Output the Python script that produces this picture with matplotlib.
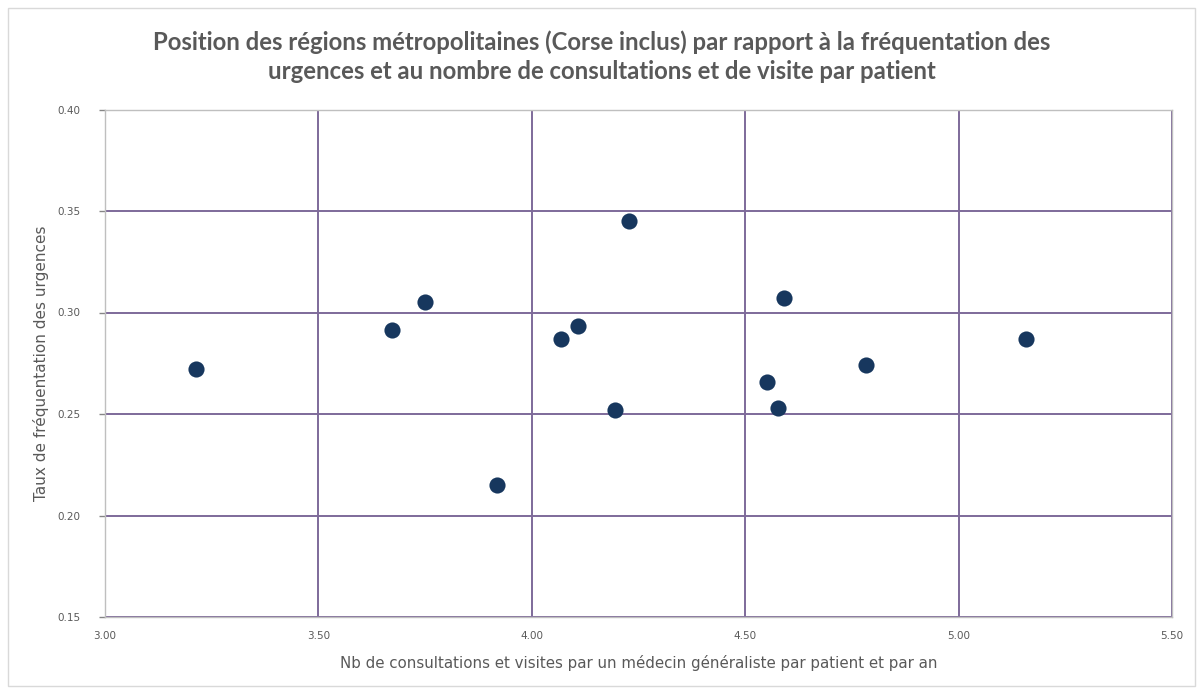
import matplotlib
matplotlib.use("Agg")
import matplotlib.pyplot as plt
from matplotlib.patches import Rectangle

consultations = [3.213, 3.672, 3.750, 3.918, 4.068, 4.108, 4.196, 4.227, 4.551, 4.578, 4.590, 4.784, 5.157]
taux_urgences = [0.272, 0.2915, 0.305, 0.215, 0.287, 0.2935, 0.252, 0.345, 0.266, 0.253, 0.307, 0.274, 0.287]
x_ticks = [3.00, 3.50, 4.00, 4.50, 5.00, 5.50]
y_ticks = [0.15, 0.20, 0.25, 0.30, 0.35, 0.40]

title = ("Position des régions métropolitaines (Corse inclus) par rapport à la fréquentation des\n"
         "urgences et au nombre de consultations et de visite par patient")
xlabel = "Nb de consultations et visites par un médecin généraliste par patient et par an"
ylabel = "Taux de fréquentation des urgences"

W, H = 1203, 693
fig = plt.figure(figsize=(W / 100, H / 100), dpi=100)
fig.patch.set_facecolor("white")
fig.patches.append(Rectangle((8 / W, 1 - 686 / H), (1195 - 8) / W, (686 - 8) / H,
                             transform=fig.transFigure, fill=False,
                             edgecolor="#d9d9d9", linewidth=1))

left, right, top, bottom = 105, 1172, 109.5, 617
ax = fig.add_axes([left / W, 1 - bottom / H, (right - left) / W, (bottom - top) / H])

ax.scatter(consultations, taux_urgences, s=135, color="#17375e", zorder=3, linewidths=0)

ax.set_xlim(3.0, 5.5)
ax.set_ylim(0.15, 0.40)
ax.set_xticks(x_ticks)
ax.set_yticks(y_ticks)
ax.set_xticklabels([f"{v:.2f}" for v in x_ticks])
ax.set_yticklabels([f"{v:.2f}" for v in y_ticks])

grid_color = "#7e6a9a"
ax.grid(True, color=grid_color, linewidth=1.4, zorder=1)
for s in ax.spines.values():
    s.set_color("#bfbfbf")
    s.set_linewidth(1)

ax.tick_params(axis="both", colors="#595959", labelsize=7.5, length=4, width=1)
ax.tick_params(axis="x", length=0, pad=10)
ax.tick_params(axis="y", color="#868686", pad=14, length=4)

ax.set_xlabel(xlabel, fontsize=10.8, color="#595959", labelpad=10)
ax.set_ylabel(ylabel, fontsize=11, color="#595959", labelpad=6)

fig.text(0.5, 1 - 57 / H, title, ha="center", va="center",
         fontsize=17.2, fontweight="bold", color="#595959", family="Lato", linespacing=1.3)

fig.savefig("out.png", dpi=100)
